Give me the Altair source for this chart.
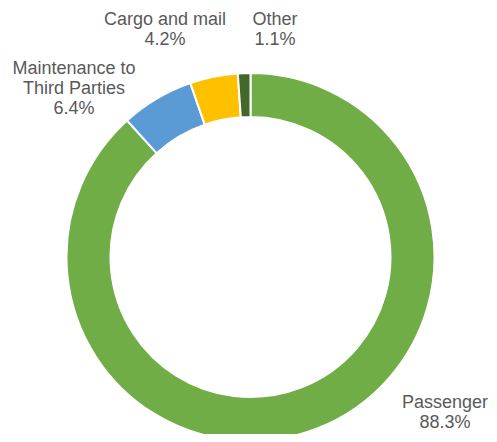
import altair as alt
import pandas as pd

categories = ["Passenger", "Maintenance to Third Parties", "Cargo and mail", "Other"]
values = [88.3, 6.4, 4.2, 1.1]
colors = ["#70AD47", "#5B9BD5", "#FFC000", "#43682B"]
label_lines = [["Passenger"], ["Maintenance to", "Third Parties"], ["Cargo and mail"], ["Other"]]

# layout (pixel positions of label blocks inside the plot area)
label_x = [437, 66, 157, 267]
label_y = [386, 52, 3, 3]

df = pd.DataFrame({"category": categories, "value": values, "idx": list(range(len(values)))})

lab = pd.DataFrame({
    "category": categories,
    "text": [lines + [f"{v:.1f}%"] for lines, v in zip(label_lines, values)],
    "lx": label_x,
    "ly": label_y,
})

cx, cy = 242.5, 249

ring = alt.Chart(df).mark_arc(innerRadius=140, outerRadius=184, stroke="white", strokeWidth=2).encode(
    theta=alt.Theta("value:Q", stack=True),
    order=alt.Order("idx:Q"),
    color=alt.Color("category:N", scale=alt.Scale(domain=categories, range=colors), legend=None),
    x=alt.value(cx),
    y=alt.value(cy),
)

labels = alt.Chart(lab).mark_text(
    font="Liberation Sans", fontSize=18, lineHeight=20, color="#595959",
    align="center", baseline="top",
).encode(
    x=alt.X("lx:Q", scale=None),
    y=alt.Y("ly:Q", scale=None),
    text="text",
)

chart = alt.layer(ring, labels).properties(
    width=481, height=426, padding=0, autosize=alt.AutoSizeParams(type="none")
).configure_view(stroke=None)

chart.save("out.html", embed_options={"renderer": "svg", "actions": False})
